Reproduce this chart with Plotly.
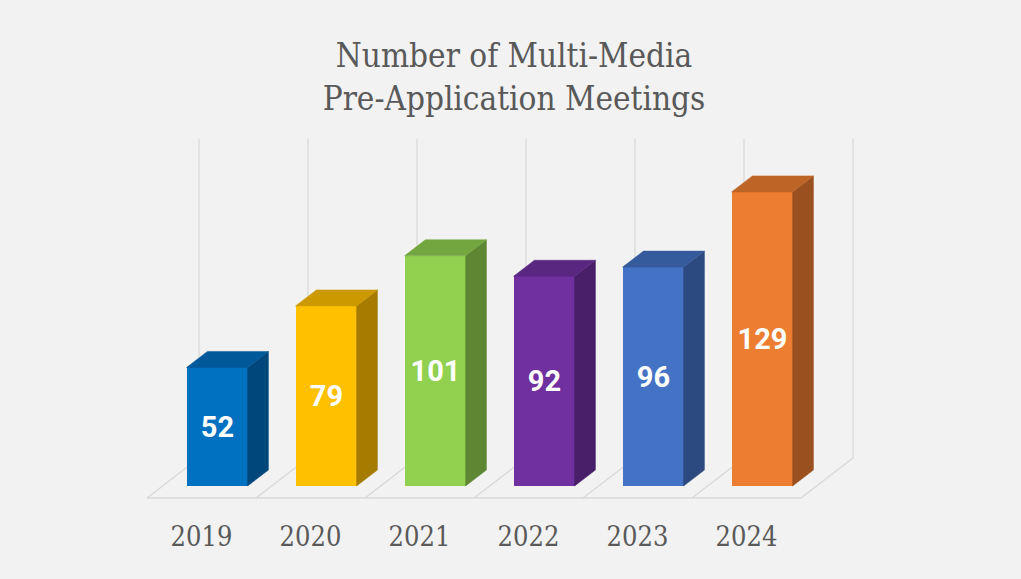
import plotly.graph_objects as go

# ---- data ----
years = ["2019", "2020", "2021", "2022", "2023", "2024"]
meetings = [52, 79, 101, 92, 96, 129]
front_colors = ["#0070C0", "#FFC000", "#92D050", "#7030A0", "#4472C4", "#ED7D31"]
axis_max = 140

# ---- geometry (layout) ----
W, H = 1021, 579
PX_PER_CAT = 109.0
PX_PER_UNIT = 2.28
FLOOR_FRONT_LEFT_PX = 147.0
FLOOR_FRONT_Y_PX = 498.0
PLOT_L, PLOT_R = 103, 888
PLOT_T, PLOT_B = 120, 510
DX = 52.0 / PX_PER_CAT       # floor depth in x units
DY = 40.0 / PX_PER_UNIT      # floor depth in y units
BAR_W = 0.56
D0, D1 = 0.3, 0.7            # bar depth position (fraction of floor depth)

x_left = -0.5 - (FLOOR_FRONT_LEFT_PX - PLOT_L) / PX_PER_CAT
x_right = x_left + (PLOT_R - PLOT_L) / PX_PER_CAT
y_bottom = -(PLOT_B - FLOOR_FRONT_Y_PX) / PX_PER_UNIT
y_top = y_bottom + (PLOT_B - PLOT_T) / PX_PER_UNIT


def shade(hexc, f):
    h = hexc.lstrip("#")
    r, g, b = (int(h[i:i + 2], 16) for i in (0, 2, 4))
    return "rgb(%d,%d,%d)" % (r * f, g * f, b * f)


fig = go.Figure()

n = len(years)
grid_color = "#D9D9D9"

# floor front edge + diagonals, back-wall vertical gridlines (drawn below traces)
grid_line = dict(color=grid_color, width=1.3)
fig.add_shape(type="line", xref="x", yref="y", x0=-0.5, y0=0, x1=n - 0.5, y1=0,
              line=grid_line, layer="below")
for k in range(n + 1):
    xb = -0.5 + k
    fig.add_shape(type="line", xref="x", yref="y", x0=xb, y0=0, x1=xb + DX, y1=DY,
                  line=grid_line, layer="below")
    fig.add_shape(type="line", xref="x", yref="y", x0=xb + DX, y0=DY,
                  x1=xb + DX, y1=DY + axis_max, line=grid_line, layer="below")

# side and top faces
for i, v in enumerate(meetings):
    x0 = i - BAR_W / 2 + D0 * DX
    x1 = x0 + BAR_W
    b0 = D0 * DY
    ddx = (D1 - D0) * DX
    ddy = (D1 - D0) * DY
    top = v + b0
    side_c = shade(front_colors[i], 0.65)
    top_c = shade(front_colors[i], 0.8)
    fig.add_trace(go.Scatter(
        x=[x1, x1, x1 + ddx, x1 + ddx, x1],
        y=[b0, top, top + ddy, b0 + ddy, b0],
        mode="lines", fill="toself", fillcolor=side_c,
        line=dict(width=0.5, color=side_c),
        hoverinfo="skip", showlegend=False))
    fig.add_trace(go.Scatter(
        x=[x0, x1, x1 + ddx, x0 + ddx, x0],
        y=[top, top, top + ddy, top + ddy, top],
        mode="lines", fill="toself", fillcolor=top_c,
        line=dict(width=0.5, color=top_c),
        hoverinfo="skip", showlegend=False))

# front faces
fig.add_trace(go.Bar(
    x=[i + D0 * DX for i in range(n)],
    y=meetings,
    base=[D0 * DY] * n,
    width=BAR_W,
    marker=dict(color=front_colors, line=dict(width=0)),
    text=[str(v) for v in meetings],
    textposition="inside",
    insidetextanchor="middle",
    textangle=0,
    textfont=dict(family="Roboto", size=29, color="white", weight="bold"),
    hovertemplate="%{text}<extra></extra>",
    showlegend=False,
))

fig.update_layout(
    width=W, height=H,
    paper_bgcolor="#F2F2F2", plot_bgcolor="#F2F2F2",
    margin=dict(l=PLOT_L, r=W - PLOT_R, t=PLOT_T, b=H - PLOT_B, pad=0),
    title=dict(text="Number of Multi-Media<br>Pre-Application Meetings",
               font=dict(family="DejaVu Serif Condensed, Roboto", size=33, color="#595959"),
               x=514 / W, xanchor="center", xref="container",
               y=1 - 67 / H, yanchor="top", yref="container"),
    xaxis=dict(range=[x_left, x_right], tickvals=list(range(n)), ticktext=years,
               showgrid=False, zeroline=False, showline=False, ticks="",
               ticklabelstandoff=8,
               tickfont=dict(family="DejaVu Serif Condensed, Roboto", size=27, color="#595959"),
               fixedrange=True),
    yaxis=dict(range=[y_bottom, y_top], visible=False, fixedrange=True),
    bargap=0,
)

fig.write_html("out.html", config={"displayModeBar": False},
               post_script="document.body.style.margin='0';document.body.style.overflow='hidden';")
